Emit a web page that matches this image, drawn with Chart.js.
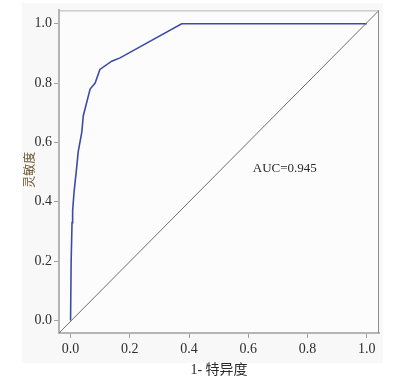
<!DOCTYPE html>
<html><head><meta charset="utf-8">
<script src="https://cdn.jsdelivr.net/npm/chart.js@4/dist/chart.umd.min.js"></script>
<style>html,body{margin:0;padding:0;background:#fff;}#wrap{width:396px;height:384px;}</style>
</head><body><div id="wrap"><canvas id="c" width="396" height="384"></canvas></div>
<script>
// ROC curve values (1 - specificity, sensitivity)
const fpr = [0, 0.002, 0.005, 0.007, 0.012, 0.019, 0.026, 0.038, 0.043, 0.066, 0.083, 0.099, 0.139, 0.167, 0.375, 1.0];
const tpr = [0, 0.20, 0.33, 0.37, 0.435, 0.50, 0.57, 0.635, 0.69, 0.78, 0.80, 0.846, 0.874, 0.885, 1.0, 1.0];
const xTicks = [0, 0.2, 0.4, 0.6, 0.8, 1.0];
const yTicks = [0, 0.2, 0.4, 0.6, 0.8, 1.0];
const X_MIN = -0.039, X_MAX = 1.041, Y_MIN = -0.042, Y_MAX = 1.045;
const diagX = [X_MIN, X_MAX];
const diagY = [Y_MIN, Y_MAX];
const xTitle = '1- 特异度';
const yTitle = '灵敏度';
const aucLabel = 'AUC=0.945';
const aucPos = [0.615, 0.513];

const SERIF = "'Liberation Serif','Times New Roman',serif";
const CJK = "'Liberation Serif','Noto Sans CJK SC',serif";

const decor = {
  id: 'decor',
  beforeDraw(chart) {
    const ctx = chart.ctx, a = chart.chartArea;
    ctx.save();
    ctx.fillStyle = '#f8f8f8';
    ctx.fillRect(22, 3, 361, 360);
    ctx.fillStyle = '#fcfcfc';
    ctx.fillRect(a.left, a.top, a.right - a.left, a.bottom - a.top);
    ctx.restore();
  },
  afterDraw(chart) {
    const ctx = chart.ctx, a = chart.chartArea;
    const xs = chart.scales.x, ys = chart.scales.y;
    ctx.save();
    // frame
    ctx.strokeStyle = '#b4b4b4';
    ctx.lineWidth = 1;
    ctx.beginPath();
    ctx.moveTo(a.left, a.top + 0.5); ctx.lineTo(a.right, a.top + 0.5);
    ctx.stroke();
    ctx.strokeStyle = '#8c8c8c';
    ctx.beginPath();
    ctx.moveTo(a.right - 0.5, a.top); ctx.lineTo(a.right - 0.5, a.bottom);
    ctx.stroke();
    // AUC text
    ctx.fillStyle = '#2a2a2a';
    ctx.font = '13px ' + SERIF;
    ctx.textAlign = 'left';
    ctx.textBaseline = 'middle';
    ctx.fillText(aucLabel, xs.getPixelForValue(aucPos[0]), ys.getPixelForValue(aucPos[1]));
    // x title
    ctx.font = '14px ' + CJK;
    ctx.textAlign = 'center';
    ctx.fillStyle = '#2a2a2a';
    ctx.fillText(xTitle, (a.left + a.right) / 2, a.bottom + 37);
    // y title
    ctx.translate(a.left - 28, (a.top + a.bottom) / 2 - 2);
    ctx.rotate(-Math.PI / 2);
    ctx.fillStyle = '#6b5832';
    ctx.font = '12px ' + CJK;
    ctx.fillText(yTitle, 0, 0);
    ctx.restore();
  }
};

const axisCommon = (ticksArr) => ({
  type: 'linear',
  afterBuildTicks: s => { s.ticks = ticksArr.map(v => ({ value: v })); },
  grid: { display: true, drawOnChartArea: false, drawTicks: true, tickLength: 5, color: '#a0a0a0' },
  border: { display: true, color: '#b4b4b4', width: 2 },
  ticks: {
    color: '#2e2e2e',
    font: { family: SERIF, size: 14 },
    callback: v => Number(v).toFixed(1)
  }
});

const xAxis = axisCommon(xTicks);
xAxis.min = X_MIN; xAxis.max = X_MAX;
xAxis.ticks.padding = 3;
xAxis.afterFit = s => { s.height = 51; };
const yAxis = axisCommon(yTicks);
yAxis.min = Y_MIN; yAxis.max = Y_MAX;
yAxis.ticks.padding = 2;
yAxis.afterFit = s => { s.width = 59; };

new Chart(document.getElementById('c'), {
  type: 'line',
  data: {
    datasets: [
      {
        data: diagX.map((x, i) => ({ x, y: diagY[i] })),
        borderColor: '#6e6e6e', borderWidth: 1, pointRadius: 0, tension: 0
      },
      {
        data: fpr.map((x, i) => ({ x, y: tpr[i] })),
        borderColor: '#3c4ba8', borderWidth: 1.6, pointRadius: 0, tension: 0
      }
    ]
  },
  options: {
    responsive: false,
    animation: false,
    layout: { padding: { left: 0, top: 7, right: 17, bottom: 0 } },
    plugins: { legend: { display: false }, tooltip: { enabled: false } },
    scales: { x: xAxis, y: yAxis }
  },
  plugins: [decor]
});
</script>
</body></html>
